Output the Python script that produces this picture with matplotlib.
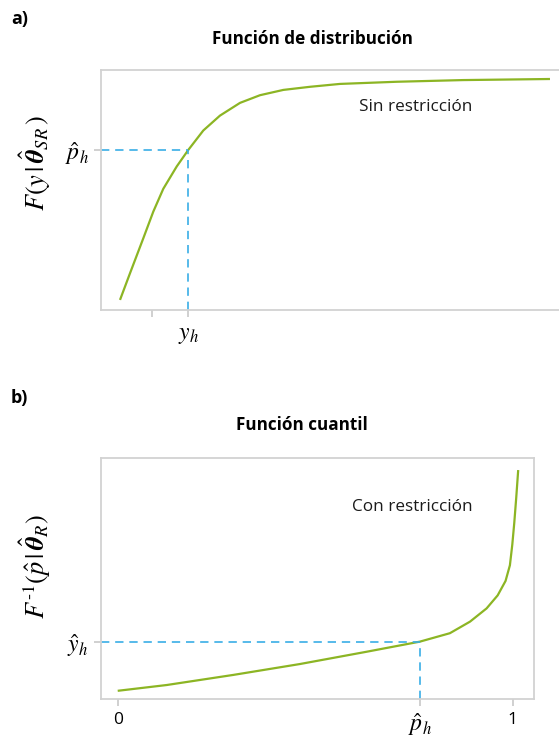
import matplotlib
matplotlib.use("Agg")
import matplotlib.pyplot as plt

plt.rcParams["font.family"] = ["Open Sans", "DejaVu Sans"]
plt.rcParams["mathtext.fontset"] = "stix"

# Panel a: distribution function (unrestricted fit)
cdf_x = [0.415, 0.633, 0.924, 1.142, 1.36, 1.653, 1.906, 2.234, 2.598, 3.035, 3.472,
         3.98, 4.563, 5.218, 6.456, 7.904, 9.803]
cdf_F = [0.042, 0.153, 0.299, 0.41, 0.505, 0.598, 0.667, 0.748, 0.81, 0.863, 0.895,
         0.917, 0.93, 0.942, 0.951, 0.958, 0.9625]
y_h = 1.906
p_h = 0.667
cdf_xticks = [1.11, y_h]
cdf_xticklabels = ["", r"$y_h$"]

# Panel b: quantile function (restricted fit)
q_p = [0.0, 0.124, 0.293, 0.461, 0.630, 0.765, 0.841, 0.892, 0.934, 0.962, 0.982,
       0.993, 0.999, 1.004, 1.009, 1.014]
q_y = [0.034, 0.058, 0.10, 0.145, 0.196, 0.238, 0.273, 0.321, 0.376, 0.43, 0.49,
       0.555, 0.64, 0.73, 0.835, 0.95]
p_hat = 0.765
y_hat = 0.238
q_xticks = [0.0, p_hat, 1.0]
q_xticklabels = ["0", r"$\hat{p}_h$", "1"]

W, H = 559, 750
GREEN = "#8cb524"
BLUE = "#3aaee6"
GRAY = "#d2d2d2"

fig = plt.figure(figsize=(W / 100, H / 100), dpi=100)


def px_axes(left, top, right, bottom):
    return fig.add_axes([left / W, 1 - bottom / H, (right - left) / W, (bottom - top) / H])


def style(ax):
    for s in ax.spines.values():
        s.set_color(GRAY)
        s.set_linewidth(1.3)
    ax.tick_params(length=5, width=1.1, color="#c4c4c4", pad=4)


# ---- a) ----
ax1 = px_axes(101, 70, 559, 310)
style(ax1)
ax1.spines["right"].set_visible(False)
ax1.set_xlim(0, 10)
ax1.set_ylim(0, 1)
ax1.plot(cdf_x, cdf_F, color=GREEN, lw=1.6, solid_capstyle="butt", solid_joinstyle="round")
ax1.plot([0, y_h], [p_h, p_h], color=BLUE, lw=1.2, dashes=(5, 3.5))
ax1.plot([y_h, y_h], [0, p_h], color=BLUE, lw=1.2, dashes=(5, 3.5))
ax1.set_xticks(cdf_xticks)
ax1.set_xticklabels(cdf_xticklabels, fontsize=17)
ax1.set_yticks([p_h])
ax1.set_yticklabels([r"$\hat{p}_h$"], fontsize=17)
ax1.text(416 / 458 - 101 / 458, 0.846, "Sin restricción", transform=ax1.transAxes,
         fontsize=12.3, ha="center", va="center", color="#1a1a1a")

# ---- b) ----
ax2 = px_axes(101, 458, 534, 699)
style(ax2)
ax2.set_xlim(-0.0423, 1.054)
ax2.set_ylim(0, 1)
ax2.plot(q_p, q_y, color=GREEN, lw=1.6, solid_capstyle="butt", solid_joinstyle="round")
ax2.plot([-0.0423, p_hat], [y_hat, y_hat], color=BLUE, lw=1.2, dashes=(5, 3.5))
ax2.plot([p_hat, p_hat], [0, y_hat], color=BLUE, lw=1.2, dashes=(5, 3.5))
ax2.set_xticks(q_xticks)
ax2.set_xticklabels(q_xticklabels)
for lab in ax2.get_xticklabels():
    lab.set_fontsize(17 if "$" in lab.get_text() else 12.5)
ax2.set_yticks([y_hat])
ax2.set_yticklabels([r"$\hat{y}_h$"], fontsize=17)
ax2.text((412.5 - 101) / 433, (699 - 506.7) / 241, "Con restricción", transform=ax2.transAxes,
         fontsize=12.3, ha="center", va="center", color="#1a1a1a")

# titles, panel letters and axis labels
fig.text(312 / W, 1 - 39 / H, "Función de distribución", fontsize=12.3,
         fontweight="bold", ha="center", va="center")
fig.text(302 / W, 1 - 425 / H, "Función cuantil", fontsize=12.3,
         fontweight="bold", ha="center", va="center")
fig.text(11 / W, 1 - 19 / H, "a)", fontsize=13, fontweight="bold", ha="left", va="center")
fig.text(11 / W, 1 - 398 / H, "b)", fontsize=13, fontweight="bold", ha="left", va="center")

fig.text(35 / W, 1 - 163 / H, r"$F(y\,|\,\hat{\boldsymbol{\theta}}_{SR}\,)$", fontsize=19,
         rotation=90, ha="center", va="center")
fig.text(35 / W, 1 - 567 / H, r"$F^{\text{-1}}(\hat{p}\,|\,\hat{\boldsymbol{\theta}}_{R})$", fontsize=19,
         rotation=90, ha="center", va="center")

fig.savefig("out.png", dpi=100)
